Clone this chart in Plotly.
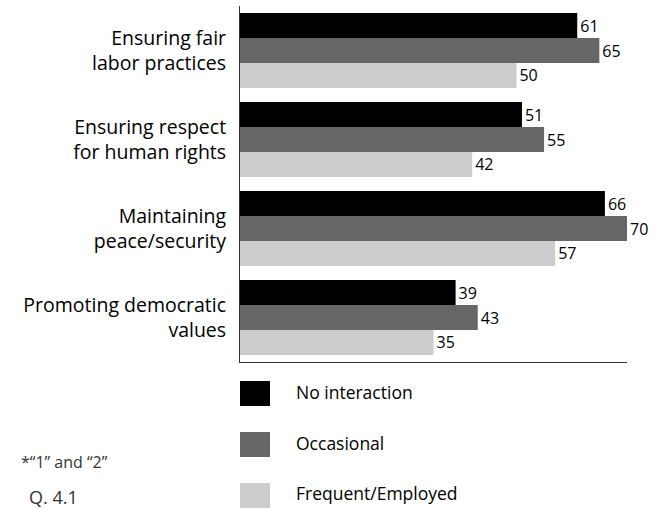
import plotly.graph_objects as go

# Survey items (rows) and the three interaction groups (series)
categories = [
    "Ensuring fair<br>labor practices",
    "Ensuring respect<br>for human rights",
    "Maintaining<br>peace/security",
    "Promoting democratic<br>values",
]
series_names = ["No interaction", "Occasional", "Frequent/Employed"]
no_interaction = [61, 51, 66, 39]
occasional = [65, 55, 70, 43]
frequent_employed = [50, 42, 57, 35]
series_values = [no_interaction, occasional, frequent_employed]
series_colors = ["#000000", "#666666", "#cccccc"]

footnote = "*\u201c1\u201d and \u201c2\u201d"
question_ref = "Q. 4.1"

W, H = 668, 509
M_L, M_R, M_T, M_B = 240, 41, 6, 147
PLOT_W = W - M_L - M_R
PLOT_H = H - M_T - M_B
FONT = "Open Sans"


def px_x(x):
    return (x - M_L) / PLOT_W


def px_y(y):
    return (H - M_B - y) / PLOT_H


fig = go.Figure()
for name, vals, color in zip(series_names, series_values, series_colors):
    fig.add_trace(go.Bar(
        y=categories,
        x=vals,
        name=name,
        orientation="h",
        marker=dict(color=color, line=dict(width=0)),
        text=[str(v) for v in vals],
        textposition="outside",
        constraintext="none",
        cliponaxis=False,
        textfont=dict(family=FONT, size=16, color="#000000"),
        showlegend=False,
    ))

# Custom legend: large swatches stacked under the plot
shapes = []
annotations = []
legend_rows = [393.5, 444.5, 495.5]
for name, color, cy in zip(series_names, series_colors, legend_rows):
    shapes.append(dict(
        type="rect", xref="paper", yref="paper",
        x0=px_x(240), x1=px_x(270), y0=px_y(cy - 12.5), y1=px_y(cy + 12.5),
        fillcolor=color, line=dict(width=0),
    ))
    annotations.append(dict(
        xref="paper", yref="paper", x=px_x(294), y=px_y(cy - 2),
        text=name, showarrow=False, xanchor="left", yanchor="middle",
        font=dict(family=FONT, size=17.5, color="#000000"),
    ))

annotations.append(dict(
    xref="paper", yref="paper", x=px_x(19), y=px_y(462),
    text=footnote, showarrow=False, xanchor="left", yanchor="middle",
    font=dict(family=FONT, size=16, color="#333333"),
))
annotations.append(dict(
    xref="paper", yref="paper", x=px_x(27), y=px_y(497),
    text=question_ref, showarrow=False, xanchor="left", yanchor="middle",
    font=dict(family=FONT, size=18, color="#333333"),
))

fig.update_layout(
    width=W, height=H,
    margin=dict(l=M_L, r=M_R, t=M_T, b=M_B, pad=0),
    paper_bgcolor="white", plot_bgcolor="white",
    barmode="group", bargap=0.16, bargroupgap=0,
    shapes=shapes, annotations=annotations,
    font=dict(family=FONT, color="#000000"),
)
fig.update_xaxes(
    range=[0, 70], showgrid=False, zeroline=False,
    showticklabels=False, ticks="",
    showline=True, linecolor="#333333", linewidth=1,
)
fig.update_yaxes(
    type="category", range=[3.5, -0.5], showgrid=False, zeroline=False,
    showline=True, linecolor="#333333", linewidth=1,
    ticks="", ticklabelstandoff=9,
    tickfont=dict(family=FONT, size=19.5, color="#000000"),
)

fig.write_html("out.html")
